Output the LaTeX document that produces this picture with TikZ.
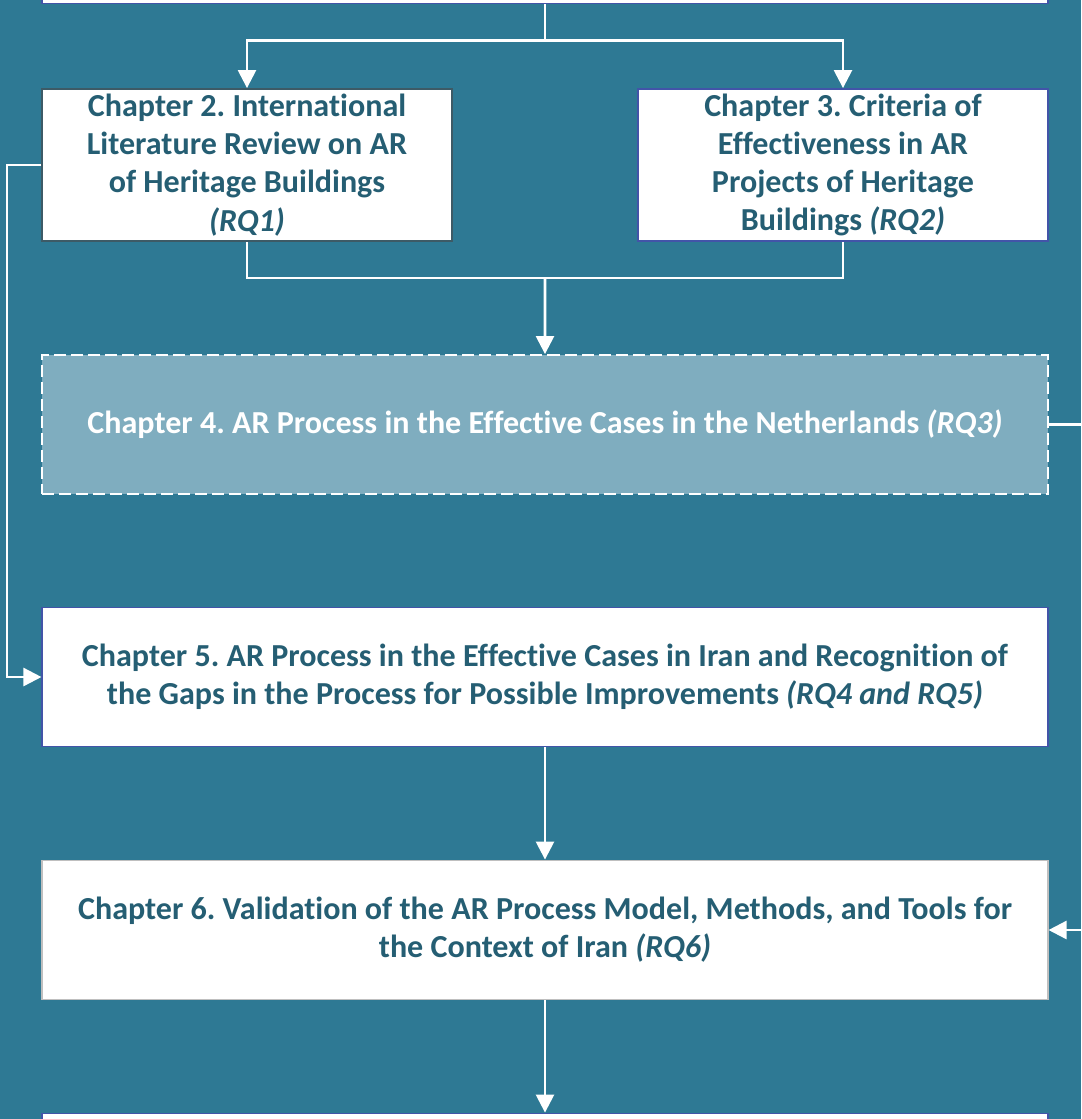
\documentclass[tikz,border=0pt]{standalone}
\usepackage{fontspec}
\setmainfont{Carlito}[Ligatures=NoCommon]
\usepackage{xcolor}
\usetikzlibrary{positioning,calc,arrows.meta}
\frenchspacing

\definecolor{bgteal}{RGB}{46,121,148}
\definecolor{txtteal}{RGB}{37,94,115}
\definecolor{lightteal}{RGB}{127,173,191}
\definecolor{edgeblue}{RGB}{66,84,168}
\definecolor{edgegray}{RGB}{61,90,102}
\definecolor{edgelight}{RGB}{191,191,191}

\begin{document}
\begin{tikzpicture}[x=0.025cm, y=-0.025cm,
    chapter/.style={rectangle, draw=edgeblue, line width=1.3pt, fill=white, align=center,
        text=txtteal, font=\fontsize{22.8}{27.2}\selectfont\bfseries, inner sep=0pt},
    small/.style={chapter, minimum width=10.25cm, minimum height=3.8cm},
    wide/.style={chapter, minimum width=25.125cm, minimum height=3.475cm},
    arrow/.style={-{Triangle[width=0.45cm, length=0.45cm]}, white, line width=1.8pt},
    link/.style={white, line width=1.8pt}
]

\useasboundingbox (0,0) rectangle (1081,1119);
\clip (0,0) rectangle (1081,1119);
\fill[bgteal] (0,0) rectangle (1081,1119);

% Chapters
\node[wide] (intro) at (545,-66) {};
\node[small, draw=edgegray] (review) at (247,165) {Chapter 2. International\\Literature Review on AR\\of Heritage Buildings\\\textit{(RQ1)}};
\node[small] (criteria) at (843,165) {Chapter 3. Criteria of\\Effectiveness in AR\\Projects of Heritage\\Buildings \textit{(RQ2)}};
\node[wide, fill=lightteal, draw=white, dash pattern=on 0.3cm off 0.125cm, text=white] (dutch) at (545,424.5) {Chapter 4. AR Process in the Effective Cases in the Netherlands \textit{(RQ3)}};
\node[wide] (iran) at (545,677) {Chapter 5. AR Process in the Effective Cases in Iran and Recognition of\\the Gaps in the Process for Possible Improvements \textit{(RQ4 and RQ5)}};
\node[wide, draw=edgelight] (valid) at (545,930) {Chapter 6. Validation of the AR Process Model, Methods, and Tools for\\the Context of Iran \textit{(RQ6)}};
\node[wide] (concl) at (545,1183) {};

% Connectors
\draw[arrow] (intro.south) -- ++(0,36) -| (review.north);
\draw[arrow] (intro.south) -- ++(0,36) -| (criteria.north);
\draw[link] (review.south) -- ++(0,36) -| (criteria.south);
\draw[arrow] ($(review.south)!0.5!(criteria.south)+(0,36)$) -- (dutch.north);
\draw[arrow] (review.west) -- ++(-34,0) |- (iran.west);
\draw[arrow] (dutch.east) -- ++(60,0) |- (valid.east);
\draw[arrow] (iran.south) -- (valid.north);
\draw[arrow] (valid.south) -- (concl.north);

\end{tikzpicture}
\end{document}
